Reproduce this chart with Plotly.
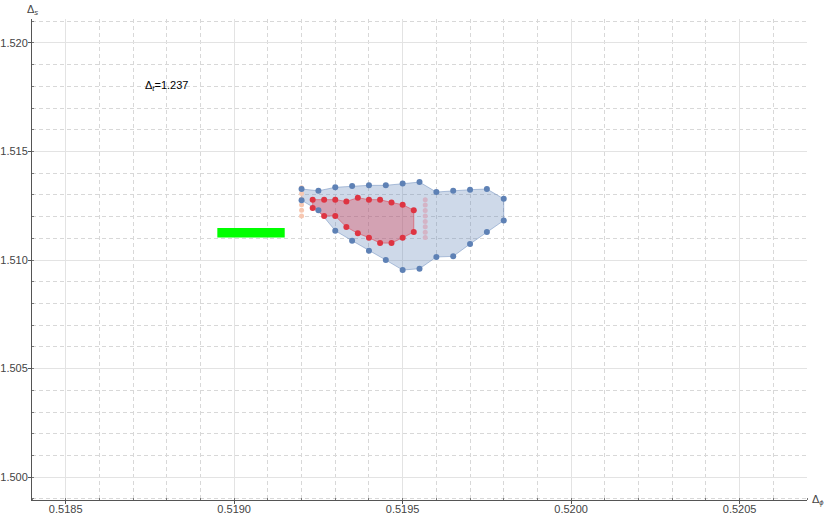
import plotly.graph_objects as go

# outer (blue) region boundary, sampled on a grid of Delta_phi
blue_x = [0.51920, 0.51925, 0.51930, 0.51935, 0.51940, 0.51945, 0.51950,
          0.51955, 0.51960, 0.51965, 0.51970, 0.51975, 0.51980]
blue_top = [1.51327, 1.51319, 1.51335, 1.51341, 1.51344, 1.51344, 1.51353,
            1.51359, 1.51313, 1.51319, 1.51324, 1.51327, 1.51282]
blue_bottom = [1.51275, 1.51229, 1.51135, 1.51089, 1.51043, 1.51000, 1.50954,
               1.50960, 1.51014, 1.51017, 1.51074, 1.51129, 1.51182]

# inner (red) region boundary
red_x = [0.519233, 0.519267, 0.519300, 0.519333, 0.519367,
         0.519400, 0.519433, 0.519467, 0.519500, 0.519533]
red_top = [1.51278, 1.51278, 1.51278, 1.51270, 1.51287,
           1.51278, 1.51278, 1.51265, 1.51255, 1.51229]
red_bottom = [1.51240, 1.51203, 1.51203, 1.51152, 1.51123,
              1.51103, 1.51078, 1.51078, 1.51103, 1.51129]

# faint columns of points
orange_x = [0.51920] * 6
orange_y = [1.51333, 1.51307, 1.51281, 1.51255, 1.51229, 1.51203]
pale_x = [0.519567] * 8
pale_y = [1.51278, 1.51253, 1.51228, 1.51203, 1.51178, 1.51153, 1.51128, 1.51104]

# green box (estimate)
green_x = [0.51895, 0.51915]
green_y = [1.51104, 1.51147]

label_text = "Δ<sub><i>t</i></sub>=1.237"
label_pos = (0.51880, 1.5180)

BLUE = "rgb(94,129,181)"
RED = "rgb(222,52,66)"

fig = go.Figure()

# blue region fill
fig.add_trace(go.Scatter(
    x=blue_x + blue_x[::-1] + blue_x[:1],
    y=blue_top + blue_bottom[::-1] + blue_top[:1],
    mode="lines", fill="toself",
    fillcolor="rgba(94,129,181,0.3)",
    line=dict(color="rgba(94,129,181,0.45)", width=1),
    hoverinfo="skip"
))

# red region fill
fig.add_trace(go.Scatter(
    x=red_x + red_x[::-1] + red_x[:1],
    y=red_top + red_bottom[::-1] + red_top[:1],
    mode="lines", fill="toself",
    fillcolor="rgba(222,60,80,0.35)",
    line=dict(color="rgba(222,52,66,0.5)", width=1),
    hoverinfo="skip"
))

fig.add_trace(go.Scatter(
    x=orange_x, y=orange_y, mode="markers",
    marker=dict(size=5, color="rgb(247,200,178)")
))
fig.add_trace(go.Scatter(
    x=pale_x, y=pale_y, mode="markers",
    marker=dict(size=5, color="rgb(212,180,198)")
))

fig.add_trace(go.Scatter(
    x=blue_x + blue_x, y=blue_top + blue_bottom, mode="markers",
    marker=dict(size=6, color=BLUE)
))
fig.add_trace(go.Scatter(
    x=red_x + red_x, y=red_top + red_bottom, mode="markers",
    marker=dict(size=6, color=RED)
))

# green box
fig.add_trace(go.Scatter(
    x=[green_x[0], green_x[1], green_x[1], green_x[0], green_x[0]],
    y=[green_y[0], green_y[0], green_y[1], green_y[1], green_y[0]],
    mode="lines", fill="toself", fillcolor="rgb(0,255,0)",
    line=dict(color="rgb(0,255,0)", width=0), hoverinfo="skip"
))

grid_major = "#e3e3e3"
grid_minor = "#d8d8d8"
axis_font = dict(family="Liberation Sans, Arial, sans-serif", size=11, color="#444")

fig.update_layout(
    width=830, height=516,
    margin=dict(l=32, r=23, t=19, b=16),
    plot_bgcolor="white", paper_bgcolor="white",
    showlegend=False,
    font=axis_font,
    xaxis=dict(
        range=[0.51840, 0.52070], automargin=False,
        tick0=0.5185, dtick=0.0005, tickformat=".4f",
        showgrid=True, gridcolor=grid_major, gridwidth=1,
        zeroline=False, showline=True, linecolor="#555", linewidth=1,
        ticks="outside", ticklen=3, tickcolor="#555",
        tickfont=axis_font, ticklabelstandoff=-4,
        minor=dict(dtick=0.0001, tick0=0.5184, showgrid=True,
                   gridcolor=grid_minor, griddash="4px,3px", gridwidth=1,
                   ticks="inside", ticklen=2, tickcolor="#777"),
    ),
    yaxis=dict(
        range=[1.49895, 1.52110], automargin=False,
        tick0=1.500, dtick=0.005, tickformat=".3f",
        showgrid=True, gridcolor=grid_major, gridwidth=1,
        zeroline=False, showline=True, linecolor="#555", linewidth=1,
        ticks="outside", ticklen=3, tickcolor="#555",
        tickfont=axis_font, ticklabelstandoff=-2,
        minor=dict(dtick=0.001, tick0=1.499, showgrid=True,
                   gridcolor=grid_minor, griddash="4px,3px", gridwidth=1,
                   ticks="inside", ticklen=2, tickcolor="#777"),
    ),
)

fig.add_annotation(
    x=label_pos[0], y=label_pos[1], xref="x", yref="y",
    text=label_text, showarrow=False,
    font=dict(family="Liberation Sans, Arial, sans-serif", size=11, color="black")
)
fig.add_annotation(
    x=1.0, y=0.0, xref="paper", yref="paper", xanchor="left", yanchor="middle",
    xshift=3, text="Δ<sub><i>ϕ</i></sub>", showarrow=False,
    font=dict(family="Liberation Sans, Arial, sans-serif", size=11, color="#444")
)
fig.add_annotation(
    x=0.0, y=1.0, xref="paper", yref="paper", xanchor="center", yanchor="bottom",
    yshift=0, text="Δ<sub><i>s</i></sub>", showarrow=False,
    font=dict(family="Liberation Sans, Arial, sans-serif", size=11, color="#444")
)

# the page body has a default 8px margin; drop it so the figure fills the window
fig.write_html("out.html", config={"displayModeBar": False},
               post_script="document.body.style.margin='0';")
